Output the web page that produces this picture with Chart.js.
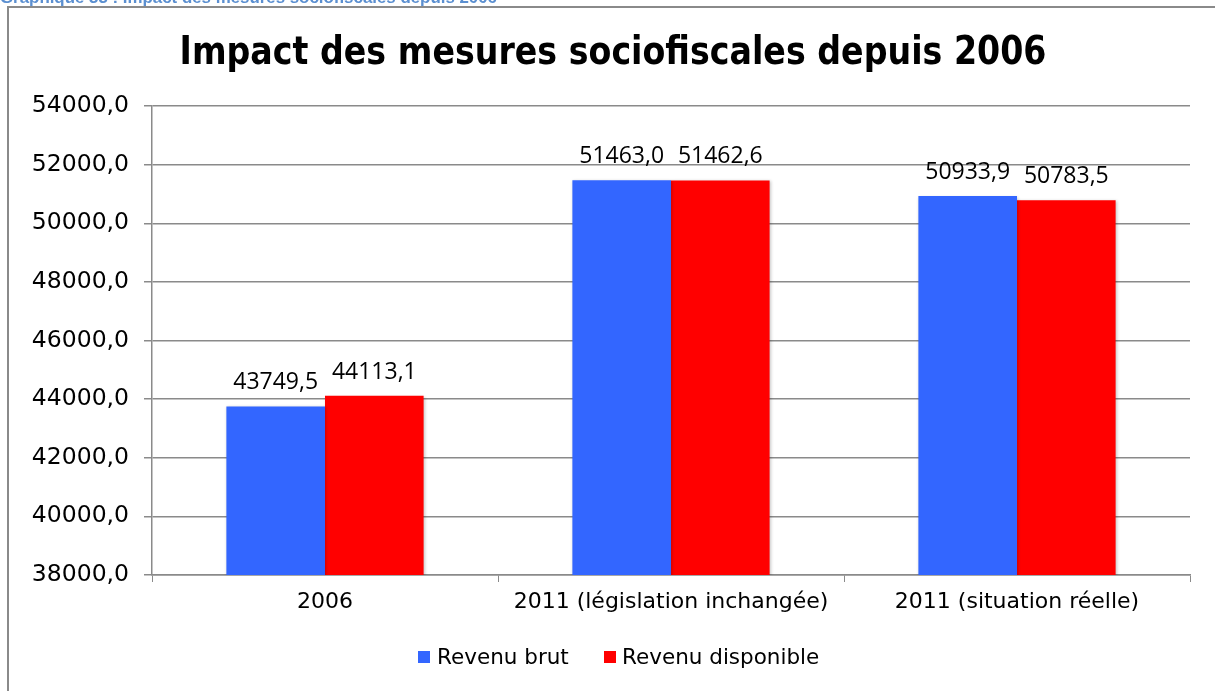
<!DOCTYPE html>
<html><head><meta charset="utf-8">
<script src="https://cdn.jsdelivr.net/npm/chart.js@4"></script>
<style>html,body{margin:0;padding:0;background:#fff}#wrap{width:1215px;height:691px;position:relative}</style>
</head><body><div id="wrap"><canvas id="c" width="1215" height="691"></canvas></div>
<script>
const categories = ["2006", "2011 (législation inchangée)", "2011 (situation réelle)"];
const revenuBrut = [43749.5, 51463.0, 50933.9];
const revenuDisponible = [44113.1, 51462.6, 50783.5];
const seriesNames = ["Revenu brut", "Revenu disponible"];
const chartTitle = "Impact des mesures sociofiscales depuis 2006";
const caption = "Graphique 33 : Impact des mesures sociofiscales depuis 2006";
const yMin = 38000, yMax = 54000, yStep = 2000;

const AXIS_FONT = '"DejaVu Sans", sans-serif';
const LABEL_FONT = '"Open Sans", sans-serif';
const fmt = v => v.toFixed(1).replace('.', ',');

function fitText(ctx, text, x, y, font, targetW) {
  ctx.font = font;
  const w = ctx.measureText(text).width;
  const sx = targetW / w;
  ctx.save();
  ctx.translate(x, y);
  ctx.scale(sx, 1);
  ctx.fillText(text, 0, 0);
  ctx.restore();
}

const decor = {
  id: 'decor',
  beforeDraw(chart) {
    const ctx = chart.ctx;
    ctx.save();
    ctx.fillStyle = '#fff';
    ctx.fillRect(0, 0, chart.width, chart.height);
    // caption (partially clipped at top)
    ctx.fillStyle = '#5B8FD0';
    ctx.textBaseline = 'alphabetic';
    ctx.textAlign = 'left';
    fitText(ctx, caption, 0, 3, 'bold 16px "Liberation Sans", sans-serif', 497);
    // frame
    ctx.strokeStyle = '#8a8a8a';
    ctx.lineWidth = 2;
    ctx.strokeRect(8, 7, chart.width + 20, chart.height + 20);
    // title
    ctx.fillStyle = '#000';
    ctx.textAlign = 'center';
    ctx.textBaseline = 'alphabetic';
    fitText(ctx, chartTitle, 613, 64, 'bold 39px ' + AXIS_FONT, 867);
    ctx.restore();
  },
  beforeDatasetsDraw(chart) {
    const ctx = chart.ctx;
    ctx.save();
    ctx.shadowColor = 'rgba(0,0,0,0.22)';
    ctx.shadowBlur = 3;
    ctx.shadowOffsetX = 1;
    ctx.shadowOffsetY = 1;
  },
  afterDatasetsDraw(chart) {
    const ctx = chart.ctx;
    ctx.restore();
    ctx.save();
    ctx.fillStyle = '#000';
    ctx.font = '23px ' + LABEL_FONT;
    ctx.textAlign = 'center';
    ctx.textBaseline = 'alphabetic';
    chart.data.datasets.forEach((ds, di) => {
      chart.getDatasetMeta(di).data.forEach((bar, i) => {
        ctx.fillText(fmt(ds.data[i]), bar.x, bar.y - 17);
      });
    });
    // legend
    ctx.font = '21.5px ' + AXIS_FONT;
    ctx.textAlign = 'left';
    ctx.textBaseline = 'middle';
    const items = [[418, 437], [604, 622]];
    chart.data.datasets.forEach((ds, di) => {
      ctx.fillStyle = ds.backgroundColor;
      ctx.fillRect(items[di][0], 651, 12, 12);
      ctx.fillStyle = '#000';
      ctx.fillText(ds.label, items[di][1], 658);
    });
    ctx.restore();
  }
};

new Chart(document.getElementById('c'), {
  type: 'bar',
  data: {
    labels: categories,
    datasets: [
      { label: seriesNames[0], data: revenuBrut, backgroundColor: '#3366FF', borderWidth: 0 },
      { label: seriesNames[1], data: revenuDisponible, backgroundColor: '#FF0000', borderWidth: 0 }
    ]
  },
  options: {
    responsive: false,
    animation: false,
    devicePixelRatio: 1,
    layout: { padding: { left: 10, right: 25, top: 106, bottom: 0 } },
    plugins: { legend: { display: false }, title: { display: false }, tooltip: { enabled: false } },
    datasets: { bar: { categoryPercentage: 0.57, barPercentage: 1.0 } },
    scales: {
      x: {
        afterFit(s) { s.height = 116; },
        grid: { display: true, drawOnChartArea: false, drawTicks: true, tickLength: 7, color: '#8a8a8a', offset: true },
        border: { display: true, color: '#8a8a8a', width: 1.5 },
        ticks: { color: '#000', font: { family: AXIS_FONT, size: 22 }, padding: 7, maxRotation: 0 }
      },
      y: {
        min: yMin, max: yMax,
        afterFit(s) { s.width = 142; },
        afterBuildTicks(s) { s.ticks = []; for (let v = yMin; v <= yMax; v += yStep) s.ticks.push({ value: v }); },
        grid: { color: '#8a8a8a', lineWidth: 1.5, tickLength: 8, drawTicks: true },
        border: { display: true, color: '#8a8a8a', width: 1.5 },
        ticks: { color: '#000', font: { family: AXIS_FONT, size: 23.5 }, padding: 15, callback: v => fmt(v) }
      }
    }
  },
  plugins: [decor]
});
</script></body></html>
